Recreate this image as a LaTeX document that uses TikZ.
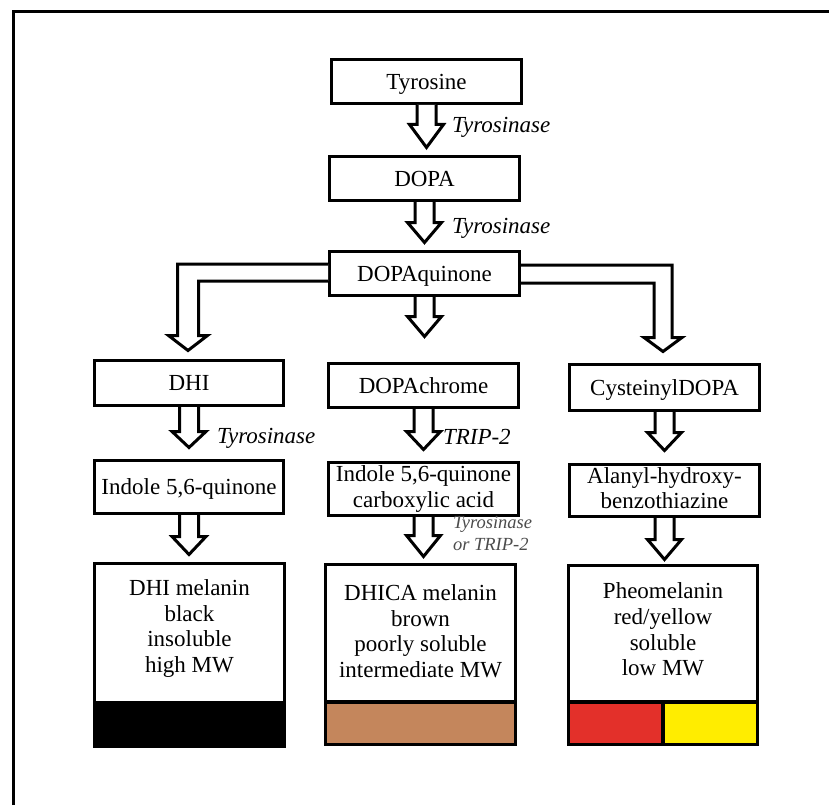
\documentclass[tikz,border=0pt]{standalone}
\usepackage{fontspec}
\setmainfont{Liberation Serif}
\usetikzlibrary{calc}
\newcommand\mainsz{\fontsize{23}{25.8}\selectfont}
\newcommand\smallsz{\fontsize{18.5}{22}\selectfont}
\definecolor{mbrown}{HTML}{C4865C}
\definecolor{mred}{HTML}{E3302A}
\definecolor{myellow}{HTML}{FFED00}
\definecolor{lblgray}{gray}{0.3}
\tikzset{
  bx/.style={draw, line width=3.2pt, inner sep=0pt, outer sep=0pt,
    minimum width=190pt, minimum height=44pt, align=center, font=\mainsz},
  oneline/.style={text height=15.5pt, text depth=0pt},
  bigtxt/.style={inner sep=0pt, outer sep=0pt, align=center, font=\mainsz, anchor=north},
  enz/.style={inner sep=0pt, outer sep=0pt, font=\mainsz\itshape, anchor=base west},
  enzsmall/.style={inner sep=0pt, outer sep=0pt, font=\smallsz\itshape, text=lblgray, align=left, anchor=north west},
  blockarrow/.style={draw, fill=white, line width=3pt, line join=miter},
  band/.style={draw, line width=3.2pt}
}
% straight block arrow: from, to, gap above target, head length
\newcommand\barrow[4]{%
  \draw[blockarrow] let \p1=(#1.south), \p2=(#2.north) in
    (\x1-9.5pt,\y1-1.5pt) -- (\x1-9.5pt,\y2+#3pt+#4pt) -- (\x1-17pt,\y2+#3pt+#4pt)
    -- (\x1,\y2+#3pt) -- (\x1+17pt,\y2+#3pt+#4pt) -- (\x1+9.5pt,\y2+#3pt+#4pt)
    -- (\x1+9.5pt,\y1-1.5pt);}
\begin{document}
\begin{tikzpicture}[x=1pt,y=-1pt]
\useasboundingbox (0,0) rectangle (829,805);
\fill[white] (0,0) rectangle (829,805);
\draw[line width=3pt] (13.5,805) -- (13.5,11.5) -- (829,11.5);

% boxes
\node[bx,oneline] (tyr)  at (426.5,81.5)  {Tyrosine};
\node[bx,oneline] (dopa) at (424.5,178.5) {DOPA};
\node[bx,oneline] (dq)   at (424.5,273.5) {DOPAquinone};
\node[bx,oneline,minimum width=189pt,minimum height=45pt] (dhi) at (189,383) {DHI};
\node[bx,oneline] (dc)   at (423.5,385.5) {DOPAchrome};
\node[bx,oneline,minimum height=46pt] (cys) at (664.5,387.5) {CysteinylDOPA};
\node[bx,oneline,minimum width=189pt,minimum height=53pt] (ind) at (189,487) {Indole 5,6-quinone};
\node[bx,minimum height=53pt] (ica) at (423.5,489) {Indole 5,6-quinone\\carboxylic acid};
\node[bx,minimum height=52pt] (ala) at (664.5,490.5) {Alanyl-hydroxy-\\benzothiazine\vphantom{y}};

% big boxes
\node[bx,minimum height=183pt] (dhim) at (189.5,655) {};
\draw[band,fill=black] (dhim.south west) rectangle ([yshift=43.5pt]dhim.south east);
\node[bigtxt] (dhimt) at ([yshift=-15.8pt]dhim.north) {DHI melanin\\black\\insoluble\\high MW};

\node[bx,minimum height=180pt] (dhica) at (420.5,654.5) {};
\draw[band,fill=mbrown] (dhica.south west) rectangle ([yshift=42.5pt]dhica.south east);
\node[bigtxt] (dhicat) at ([yshift=-19.8pt]dhica.north) {DHICA melanin\\brown\\poorly soluble\\intermediate MW};

\node[bx,minimum width=189pt,minimum height=179pt] (pheo) at (663,655) {};
\draw[band,fill=mred] (pheo.south west) rectangle ([yshift=42.5pt]pheo.south);
\draw[band,fill=myellow] (pheo.south) rectangle ([yshift=42.5pt]pheo.south east);
\node[bigtxt] (pheot) at ([yshift=-17.1pt]pheo.north) {Pheomelanin\\red/yellow\\soluble\\low MW};

% straight arrows
\barrow{tyr}{dopa}{9}{23}
\barrow{dopa}{dq}{9}{20}
\barrow{dq}{dc}{27}{20}
\barrow{dhi}{ind}{13}{16}
\barrow{dc}{ica}{13}{18}
\barrow{cys}{ala}{14}{18}
\barrow{ind}{dhim}{9}{18}
\barrow{ica}{dhica}{8}{21}
\barrow{ala}{pheo}{6}{20}

% branch arrows
\draw[blockarrow] let \p1=(dq.west), \p2=(dhi.north) in
  (\x1-1.5pt,\y1+9.5pt) -- (\x2-11.5pt,\y1+9.5pt) -- (\x2-11.5pt,\y2+25pt)
  -- (\x2-20.5pt,\y2+25pt) -- (\x2-1pt,\y2+10pt) -- (\x2+18.5pt,\y2+25pt)
  -- (\x2+9.5pt,\y2+25pt) -- (\x2+9.5pt,\y1-7.5pt) -- (\x1-1.5pt,\y1-7.5pt);
\draw[blockarrow] let \p1=(dq.east), \p2=(cys.north) in
  (\x1+1.5pt,\y1+8.5pt) -- (\x2+7.5pt,\y1+8.5pt) -- (\x2+7.5pt,\y2+27pt)
  -- (\x2+17.5pt,\y2+27pt) -- (\x2-1.5pt,\y2+13pt) -- (\x2-20.5pt,\y2+27pt)
  -- (\x2-10.5pt,\y2+27pt) -- (\x2-10.5pt,\y1-9.5pt) -- (\x1+1.5pt,\y1-9.5pt);

% enzyme labels
\node[enz] (e1) at (452,133) {Tyrosinase};
\node[enz] (e2) at (452,233) {Tyrosinase};
\node[enz] (e3) at (217,443) {Tyrosinase};
\node[enz] (e4) at (443,444) {TRIP-2};
\node[enzsmall] (e5) at (453,516.5) {Tyrosinase\\ or TRIP-2};
\end{tikzpicture}
\end{document}
